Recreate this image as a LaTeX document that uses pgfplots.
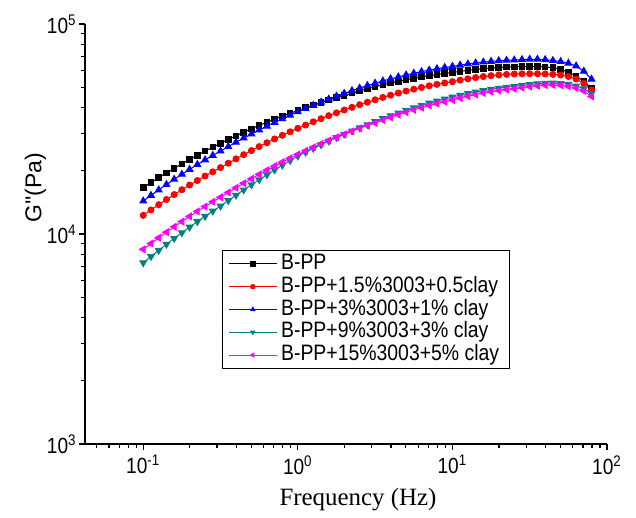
\documentclass[border=0pt]{standalone}
\usepackage{fontspec}
\setmainfont{Liberation Sans}[FakeStretch=0.87]
\newfontfamily\sfplain{Liberation Sans}
\newfontfamily\serifx{Liberation Serif}
\usepackage{pgfplots}
\usepackage{pgfplotstable}
\pgfplotsset{compat=1.18}
\definecolor{dteal}{RGB}{0,128,128}
\definecolor{mag}{RGB}{255,0,255}

\pgfplotstableread{
x bpp c15 c3 c9 c15b
0.1 16620 12270 14350 7295 8453
0.1122 17560 13020 15270 7816 9012
0.1259 18530 13790 16210 8362 9592
0.1413 19520 14590 17200 8933 10195
0.1585 20530 15410 18210 9528 10820
0.1778 21580 16250 19250 10146 11460
0.1995 22640 17110 20310 10790 12130
0.2239 23710 17980 21410 11460 12810
0.2512 24810 18880 22530 12140 13510
0.2818 25920 19780 23670 12850 14230
0.3162 27040 20700 24830 13580 14960
0.3548 28180 21730 26070 14430 15770
0.3981 29340 22790 27340 15310 16600
0.4467 30510 23860 28620 16220 17450
0.5012 31690 24960 29940 17160 18320
0.5623 32870 26070 31280 18140 19220
0.6310 34050 27200 32630 19150 20130
0.7079 35230 28350 34000 20190 21060
0.7943 36410 29510 35390 21270 22000
0.8913 37580 30670 36790 22370 22960
1 38730 31840 38200 23500 23930
1.122 39910 33020 39610 24520 24900
1.259 41090 34210 41030 25570 25880
1.413 42260 35390 42450 26620 26860
1.585 43420 36580 43870 27700 27850
1.778 44590 37760 45290 28770 28840
1.995 45740 38940 46710 29870 29840
2.239 46880 40110 48120 30970 30840
2.512 48020 41280 49510 32070 31840
2.818 49140 42420 50890 33170 32830
3.162 50230 43550 52240 34280 33810
3.548 51290 44700 53540 35430 34880
3.981 52300 45810 54800 36580 35940
4.467 53270 46890 56010 37710 36980
5.012 54200 47930 57170 38820 38000
5.623 55080 48920 58280 39900 38990
6.310 55920 49870 59320 40960 39960
7.079 56720 50760 60300 42000 40890
7.943 57450 51590 61210 42990 41780
8.913 58130 52370 62050 43960 42640
10 58750 53090 62810 44880 43450
11.22 59500 54000 63710 45790 44410
12.59 60170 54830 64520 46660 45310
14.13 60770 55570 65240 47460 46140
15.85 61290 56210 65860 48200 46900
17.78 61730 56750 66380 48870 47590
19.95 62090 57200 66810 49460 48200
22.39 62360 57550 67130 49990 48720
25.12 62540 57780 67350 50440 49160
28.18 62690 57920 67690 50990 49720
31.62 62790 57970 67890 51460 50290
35.48 62830 57940 67920 51880 50820
39.81 62540 57810 67610 52180 51170
44.67 61900 57550 66990 52300 51290
50.12 60840 57150 66220 52120 51050
56.23 58880 56230 65010 51580 50470
63.10 56500 54700 63100 50640 49550
70.79 53330 52120 59570 49200 47970
79.43 49430 48530 54580 46770 45180
}\data

\begin{document}
\begin{tikzpicture}
\begin{axis}[
  name=ax,
  scale only axis, width=261bp, height=210bp,
  xmode=log, ymode=log,
  xmin=0.042, xmax=100, ymin=1000, ymax=100000,
  axis x line*=bottom, axis y line*=left,
  axis line style={line width=0.7bp},
  tick align=outside,
  major tick length=3bp, minor tick length=1.8bp,
  every tick/.style={black, line width=0.6bp},
  xtick={0.1,1,10,100},
  xticklabels={10\textsuperscript{-1},10\textsuperscript{0},10\textsuperscript{1},10\textsuperscript{2}},
  minor xtick={0.05,0.06,0.07,0.08,0.09,0.2,0.3,0.4,0.5,0.6,0.7,0.8,0.9,2,3,4,5,6,7,8,9,20,30,40,50,60,70,80,90},
  ytick={1000,10000,100000},
  yticklabels={10\textsuperscript{3},10\textsuperscript{4},10\textsuperscript{5}},
  minor ytick={2000,3000,4000,5000,6000,7000,8000,9000,20000,30000,40000,50000,60000,70000,80000,90000},
  tick label style={font=\fontsize{11}{13}\selectfont},
  yticklabel style={inner xsep=1bp},
  xticklabel style={inner ysep=2.5bp},
  xlabel={\serifx Frequency (Hz)},
  xlabel style={at={(axis description cs:0.523,-0.133)}, anchor=center, font=\fontsize{12.5}{14}\selectfont},
  ylabel={\sfplain G\textquotesingle\textquotesingle(Pa)},
  ylabel style={at={(axis description cs:-0.095,0.61)}, anchor=center, font=\fontsize{11.5}{13}\selectfont},
  every axis plot/.append style={line width=0.5pt},
  legend image code/.code={\draw[mark repeat=2,mark phase=2,#1,mark size=1.1pt] plot coordinates {(0cm,0cm) (0.42cm,0cm) (0.84cm,0cm)};},
  legend style={at={(axis description cs:0.2625,0.462)}, anchor=north west, draw=black, line width=0.5bp,
    font=\fontsize{11.2}{13}\selectfont, inner xsep=3bp, inner ysep=1bp, row sep=0pt,
    nodes={inner ysep=0.3bp, text height=8.2bp, text depth=2.6bp},
    cells={anchor=west}},
]
\addplot[black, mark=square*, mark size=1.4pt, mark options={solid}] table[x=x,y=bpp]{\data};
\addlegendentry{B-PP}
\addplot[red, mark=*, mark size=1.5pt, mark options={solid}] table[x=x,y=c15]{\data};
\addlegendentry{B-PP+1.5\%3003+0.5clay}
\addplot[blue, mark=triangle*, mark size=1.9pt, mark options={solid}] table[x=x,y=c3]{\data};
\addlegendentry{B-PP+3\%3003+1\% clay}
\addplot[dteal, mark=triangle*, mark size=1.9pt, mark options={solid,rotate=180}] table[x=x,y=c9]{\data};
\addlegendentry{B-PP+9\%3003+3\% clay}
\addplot[mag, mark=triangle*, mark size=1.9pt, mark options={solid,rotate=90}] table[x=x,y=c15b]{\data};
\addlegendentry{B-PP+15\%3003+5\% clay}
\end{axis}
\pgfresetboundingbox
\path[use as bounding box] ([shift={(-42.5bp,-36.5bp)}]ax.south west) rectangle ([shift={(14.5bp,12bp)}]ax.north east);
\end{tikzpicture}
\end{document}
